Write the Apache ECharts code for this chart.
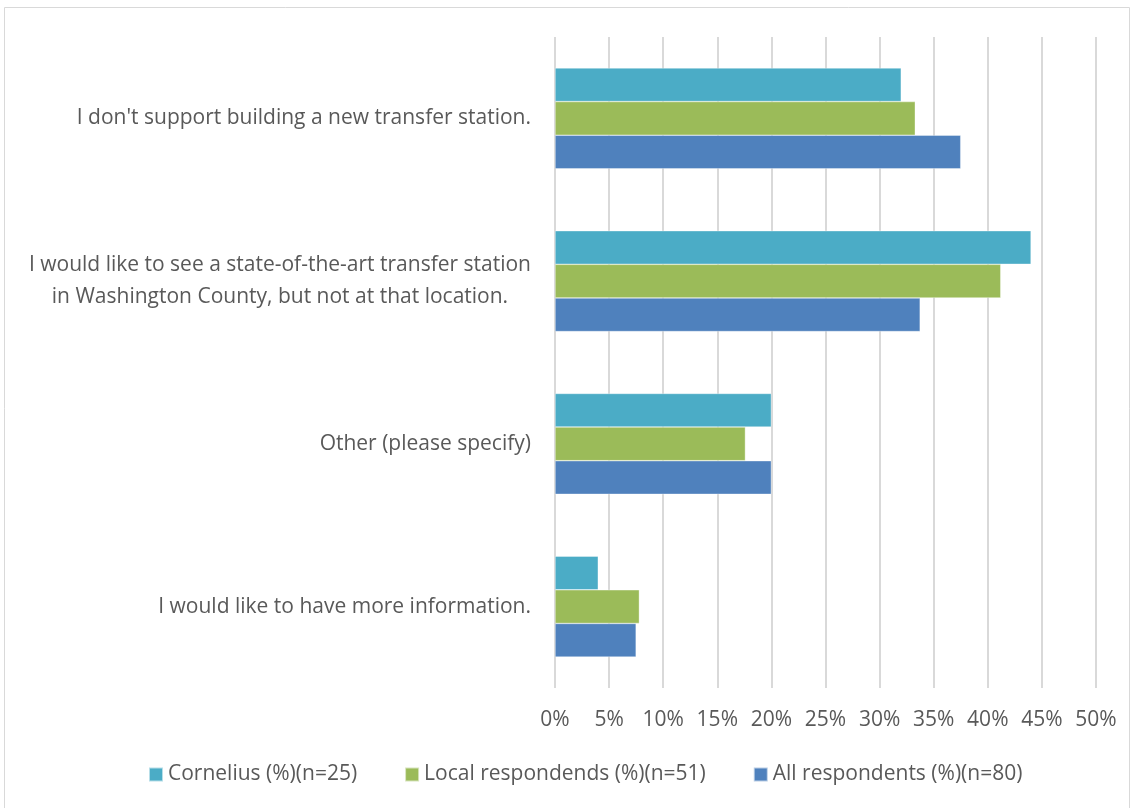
<!DOCTYPE html>
<html>
<head>
<meta charset="utf-8">
<script src="https://cdn.jsdelivr.net/npm/echarts@6/dist/echarts.min.js"></script>
<style>
  html, body { margin: 0; padding: 0; background: #fff; }
  #chart { width: 1134px; height: 808px; }
</style>
</head>
<body>
<div id="chart"></div>
<script>
// Survey responses, share of each group (%)
const categories = [
  "I don't support building a new transfer station.",
  "I would like to see a state-of-the-art transfer station\nin Washington County, but not at that location.",
  "Other (please specify)",
  "I would like to have more information."
];
const seriesNames = [
  "Cornelius (%)(n=25)",
  "Local respondends (%)(n=51)",
  "All respondents (%)(n=80)"
];
const cornelius = [32, 44, 20, 4];
const localResp = [33.3, 41.2, 17.6, 7.8];
const allResp = [37.5, 33.75, 20, 7.5];
const colors = ["#4BACC6", "#9BBB59", "#4F81BD"];

const FONT = "'Open Sans', sans-serif";
const SIZE = 21;
const TEXT = "#595959";

const chart = echarts.init(document.getElementById('chart'));
const values = [cornelius, localResp, allResp];

chart.setOption({
  animation: false,
  graphic: [{
    type: 'rect',
    shape: { x: 4.5, y: 7.5, width: 1125, height: 810 },
    style: { fill: 'none', stroke: '#d9d9d9', lineWidth: 1 }
  }],
  grid: { left: 555, right: 38, top: 37, bottom: 120 },
  legend: {
    top: 759,
    left: 143,
    itemWidth: 14,
    itemHeight: 14,
    itemGap: 47,
    icon: 'rect',
    textStyle: { fontFamily: FONT, fontSize: SIZE, color: TEXT },
    data: seriesNames
  },
  xAxis: {
    type: 'value',
    min: 0,
    max: 50,
    interval: 5,
    axisLine: { show: false },
    axisTick: { show: false },
    splitLine: { lineStyle: { color: '#d9d9d9', width: 2 } },
    axisLabel: {
      formatter: '{value}%',
      fontFamily: FONT, fontSize: SIZE, color: TEXT, margin: 22
    }
  },
  yAxis: {
    type: 'category',
    inverse: true,
    data: categories,
    axisLine: { show: false },
    axisTick: { show: false },
    axisLabel: {
      fontFamily: FONT, fontSize: SIZE, color: TEXT, margin: 24,
      lineHeight: 32, align: 'right',
      // multi-line labels: centre each line within the label block
      formatter: (v) => v.split('\n').map(s => '{c|' + s + '}').join('\n'),
      rich: {
        c: { fontFamily: FONT, fontSize: SIZE, color: TEXT, lineHeight: 32, align: 'center' }
      }
    }
  },
  series: seriesNames.map((name, i) => ({
    name,
    type: 'bar',
    data: values[i],
    barGap: '0%',
    barCategoryGap: '38%',
    itemStyle: { color: colors[i], borderColor: 'rgba(255,255,255,0.6)', borderWidth: 0.6 }
  }))
});
</script>
</body>
</html>
